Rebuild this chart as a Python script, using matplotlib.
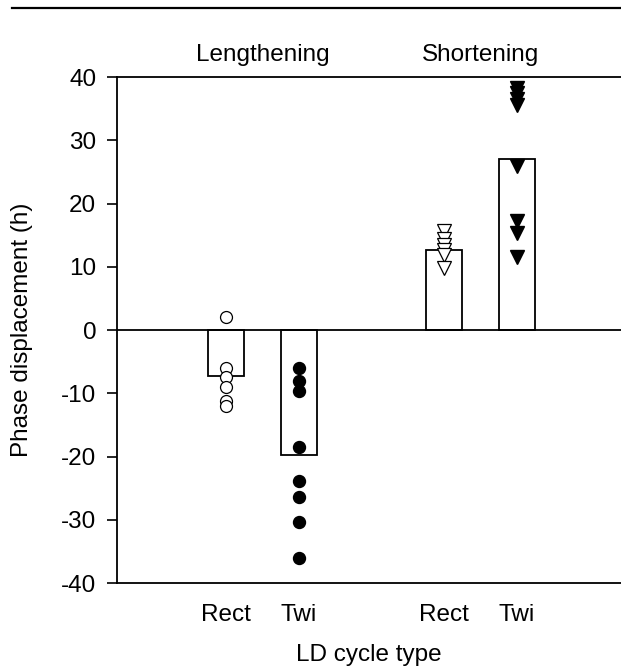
import numpy as np
import matplotlib
matplotlib.use("Agg")
import matplotlib.pyplot as plt
from matplotlib.lines import Line2D

plt.rcParams['font.family'] = ['Liberation Sans', 'DejaVu Sans']
plt.rcParams['axes.unicode_minus'] = False

# group / condition layout
groups = ['Lengthening', 'Shortening']
tick_labels = ['Rect', 'Twi', 'Rect', 'Twi']
positions = [1.5, 2.5, 4.5, 5.5]

# bar heights (means)
means = [-7.2, -19.8, 12.6, 27.0]

# individual animals
len_rect = [2.0, -6.0, -7.5, -9.0, -11.3, -12.0]
len_twi = [-6.0, -8.1, -9.6, -18.5, -23.9, -26.4, -30.4, -36.0]
sho_rect = [15.6, 14.4, 13.4, 12.6, 11.8, 9.8]
sho_twi = [38.3, 37.4, 36.6, 35.6, 25.9, 17.2, 15.4, 11.5]

fs = 17.5

fig = plt.figure(figsize=(6.21, 6.68), dpi=100)
ax = fig.add_axes([0.1884, 0.1272, 0.8116, 0.7575])

ax.bar(positions, means, width=0.5, facecolor='white', edgecolor='black',
       linewidth=1.3, zorder=2)
ax.axhline(0, color='black', linewidth=1.3, zorder=3)

ax.plot([positions[0]] * len(len_rect), len_rect, 'o', mfc='white', mec='black',
        ms=8.6, mew=0.9, zorder=4, clip_on=False)
ax.plot([positions[1]] * len(len_twi), len_twi, 'o', mfc='black', mec='black',
        ms=8.6, zorder=4, clip_on=False)
ax.plot([positions[2]] * len(sho_rect), sho_rect, 'v', mfc='white', mec='black',
        ms=9.5, mew=0.9, zorder=4, clip_on=False)
ax.plot([positions[3]] * len(sho_twi), sho_twi, 'v', mfc='black', mec='black',
        ms=9.5, zorder=4, clip_on=False)

ax.set_xlim(0, 6.93)
ax.set_ylim(-40, 40)
ax.set_yticks(np.arange(-40, 41, 10))
ax.set_xticks(positions)
ax.set_xticklabels(tick_labels)
ax.tick_params(axis='x', length=0, pad=15, labelsize=fs)
ax.tick_params(axis='y', length=7, width=1.2, pad=8, labelsize=fs, direction='out')

for side in ['top', 'bottom', 'left']:
    ax.spines[side].set_linewidth(1.3)
ax.spines['right'].set_visible(False)

ax.set_xlabel('LD cycle type', fontsize=fs, labelpad=13)
fig.text(22 / 621, 0.506, 'Phase displacement (h)', rotation=90,
         ha='center', va='center', fontsize=fs)

for g, x in zip(groups, [2.0, 5.0]):
    ax.text(x, 1.022, g, transform=ax.get_xaxis_transform(),
            ha='center', va='bottom', fontsize=fs)

# rule across the top of the figure
fig.add_artist(Line2D([12 / 621, 1.0], [1 - 8 / 668, 1 - 8 / 668],
                      color='black', linewidth=1.6, transform=fig.transFigure))

fig.savefig('out.png', dpi=100)
